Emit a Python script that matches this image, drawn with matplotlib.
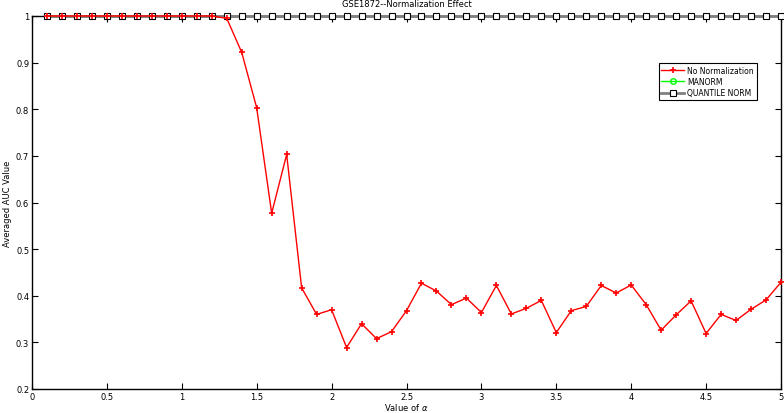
import matplotlib
matplotlib.use("Agg")
import matplotlib.pyplot as plt
import numpy as np
from matplotlib.ticker import FuncFormatter

alpha = np.round(np.arange(1, 51) * 0.1, 1)

no_norm = [1.0, 1.0, 1.0, 1.0, 1.0, 1.0, 1.0, 1.0, 1.0, 1.0, 1.0, 1.0,
           0.995, 0.922, 0.803, 0.577, 0.703, 0.417, 0.360, 0.370,
           0.289, 0.340, 0.308, 0.323, 0.368, 0.427, 0.410, 0.381, 0.395, 0.364,
           0.422, 0.361, 0.373, 0.390, 0.321, 0.368, 0.377, 0.422, 0.406, 0.423,
           0.381, 0.326, 0.359, 0.389, 0.319, 0.360, 0.347, 0.371, 0.391, 0.429]
manorm = [1.0] * 50
quantile = [1.0] * 50

fig = plt.figure(figsize=(7.84, 4.14), dpi=100)
ax = fig.add_axes([32/784, 24/414, 749/784, 373/414])

ax.plot(alpha, quantile, color="#808080", linewidth=2, marker="s", markersize=4,
        markerfacecolor="white", markeredgecolor="black", markeredgewidth=0.8,
        label="QUANTILE NORM", zorder=3, clip_on=False)
ax.plot(alpha, manorm, color="#00ff00", linewidth=1, marker="o", markersize=4,
        markerfacecolor="none", markeredgecolor="#00ff00",
        label="MANORM", zorder=2, clip_on=False)
ax.plot(alpha, no_norm, color="red", linewidth=1, marker="+", markersize=5,
        markeredgewidth=1.2, label="No Normalization", zorder=4, clip_on=False)

ax.set_xlim(0, 5)
ax.set_ylim(0.2, 1)
ax.set_xticks(np.arange(0, 5.01, 0.5))
ax.set_yticks(np.arange(0.2, 1.01, 0.1))
ax.xaxis.set_major_formatter(FuncFormatter(lambda v, p: f"{v:g}"))
ax.yaxis.set_major_formatter(FuncFormatter(lambda v, p: "1" if v > 0.999 else f"{v:.1f}"))
ax.tick_params(direction="in", top=True, right=True, labelsize=6, length=4, pad=2)
for s in ax.spines.values():
    s.set_linewidth(1)

ax.set_title("GSE1872--Normalization Effect", fontsize=6, pad=7)
ax.set_xlabel(r"Value of $\alpha$", fontsize=6, labelpad=0.5)
ax.set_ylabel("Averaged AUC Value", fontsize=6, labelpad=3)

handles, labels = ax.get_legend_handles_labels()
order = [2, 1, 0]
leg = ax.legend([handles[i] for i in order], [labels[i] for i in order],
                loc="upper right", bbox_to_anchor=(0.9675, 0.874), fontsize=5.5,
                fancybox=False, edgecolor="black", framealpha=1,
                handlelength=3, handletextpad=0.4, borderpad=0.35,
                labelspacing=0.3, borderaxespad=0)
leg.get_frame().set_linewidth(0.8)

plt.savefig("out.png", dpi=100)
